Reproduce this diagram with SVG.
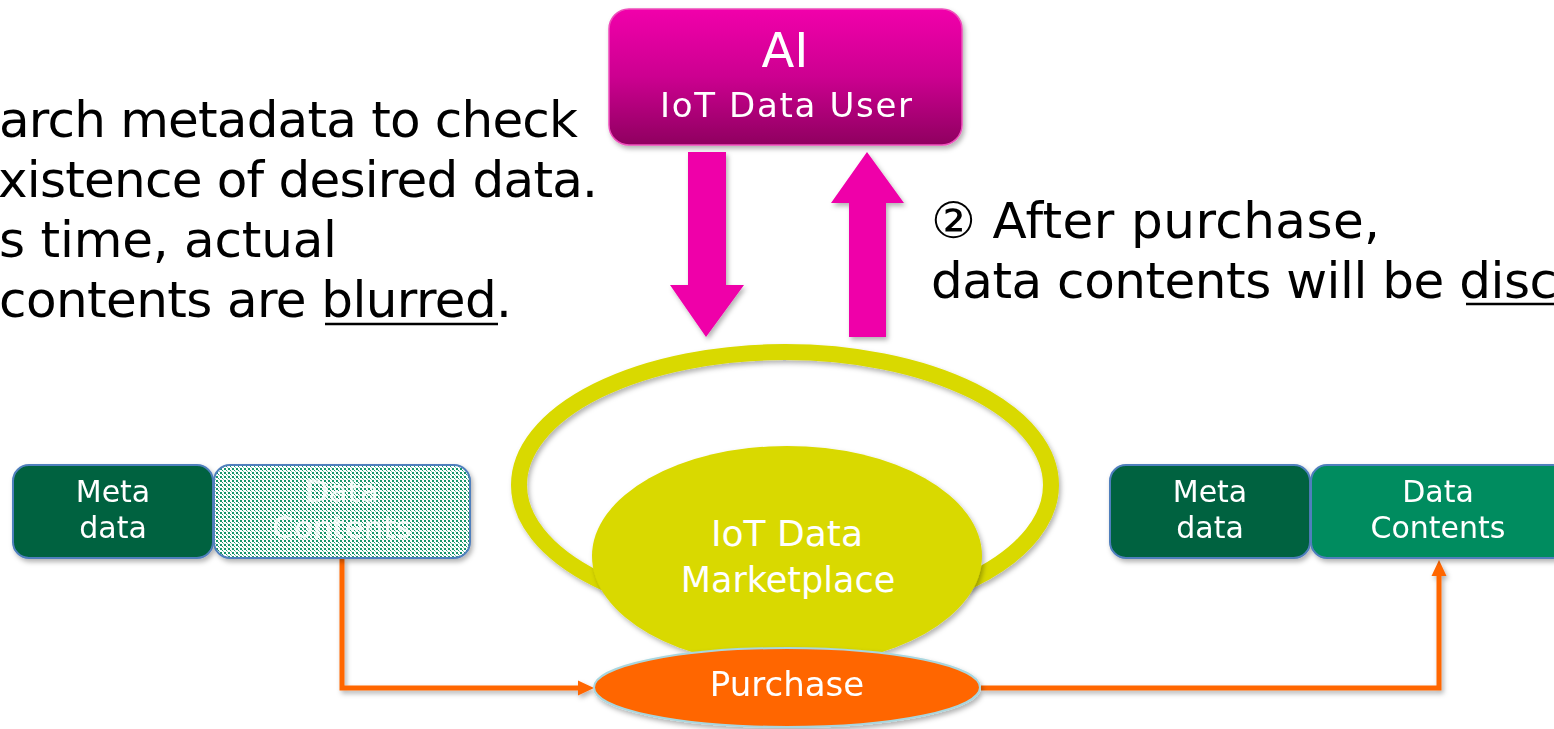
<svg xmlns="http://www.w3.org/2000/svg" width="1554" height="729" viewBox="0 0 1554 729">
  <defs>
    <style>
      .note { font-family: "DejaVu Sans", "Noto Sans CJK JP", sans-serif; font-size: 50px; fill: #000; }
      .lbl { font-family: "DejaVu Sans", "Noto Sans", sans-serif; fill: #fff; text-anchor: middle; }
      .box { stroke: #4f7fbd; stroke-width: 2; }
      .conn { fill: none; stroke: #ff6600; stroke-width: 5; }
      .head { fill: #ff6600; }
      .block { fill: #ef00a9; }
      .uline { stroke: #000; stroke-width: 2.5; }
    </style>
    <filter id="shadow" x="-10%" y="-10%" width="125%" height="130%">
      <feDropShadow dx="2" dy="3" stdDeviation="2.5" flood-color="#000" flood-opacity="0.3"/>
    </filter>
    <linearGradient id="aiFill" x1="0" y1="0" x2="0" y2="1">
      <stop offset="0" stop-color="#f100ab"/>
      <stop offset="0.5" stop-color="#cc0090"/>
      <stop offset="1" stop-color="#8f0060"/>
    </linearGradient>
    <pattern id="dither" width="4" height="4" patternUnits="userSpaceOnUse">
      <rect width="4" height="4" fill="#ffffff"/>
      <rect x="0" y="0" width="2" height="2" fill="#17966a"/>
      <rect x="2" y="2" width="1" height="1" fill="#17966a"/>
      <rect x="3" y="3" width="1" height="1" fill="#8ccab0"/>
    </pattern>
  </defs>

  <rect width="1554" height="729" fill="#ffffff"/>

  <!-- explanatory notes -->
  <g id="note-search">
    <text class="note" x="-1" y="136.7" textLength="579" lengthAdjust="spacing">arch metadata to check</text>
    <text class="note" x="-2" y="196.7" textLength="600" lengthAdjust="spacing">xistence of desired data.</text>
    <text class="note" x="-1" y="256.7" textLength="338" lengthAdjust="spacing">s time, actual</text>
    <text class="note" x="-1" y="316.7" textLength="513" lengthAdjust="spacing">contents are blurred.</text>
    <line class="uline" x1="325" y1="324" x2="498" y2="324"/>
  </g>
  <g id="note-purchase">
    <text class="note" x="931" y="238" textLength="449" lengthAdjust="spacing">② After purchase,</text>
    <text class="note" x="931" y="298" textLength="626" lengthAdjust="spacing">data contents will be disc</text>
    <line class="uline" x1="1466" y1="304" x2="1554" y2="304"/>
  </g>

  <!-- AI / IoT data user -->
  <g id="node-ai" filter="url(#shadow)">
    <rect x="609" y="9" width="353" height="136" rx="20" fill="url(#aiFill)" stroke="#ee4fbb" stroke-width="1.5"/>
    <text class="lbl" x="785" y="67" font-size="48">AI</text>
    <text class="lbl" x="786" y="117" font-size="34" textLength="252" lengthAdjust="spacing">IoT Data User</text>
  </g>

  <!-- marketplace ring and body -->
  <g id="node-marketplace">
    <ellipse cx="785" cy="485" rx="266" ry="133" fill="none" stroke="#d9d900" stroke-width="16" filter="url(#shadow)"/>
    <ellipse cx="787" cy="556" rx="195" ry="110" fill="#d9d900" filter="url(#shadow)"/>
    <text class="lbl" x="787" y="546" font-size="36">IoT Data</text>
    <text class="lbl" x="788" y="592" font-size="35">Marketplace</text>
  </g>

  <!-- connectors -->
  <g id="connectors" filter="url(#shadow)">
    <polygon class="block" points="688,152 726,152 726,285 744,285 706,337 670,285 688,285"/>
    <polygon class="block" points="867,152 904,203 886,203 886,337 849,337 849,203 831,203"/>
    <path class="conn" d="M342,558 V688 H582"/>
    <polygon class="head" points="578,680.5 594,688 578,695.5"/>
    <path class="conn" d="M981,688 H1439 V572"/>
    <polygon class="head" points="1431.5,576 1439,560 1446.5,576"/>
  </g>

  <!-- purchase step -->
  <g id="node-purchase" filter="url(#shadow)">
    <ellipse cx="787" cy="687.5" rx="193" ry="39.5" fill="#ff6600" stroke="#a9d6de" stroke-width="2"/>
    <text class="lbl" x="787" y="696" font-size="34">Purchase</text>
  </g>

  <!-- data before purchase -->
  <g id="node-meta-before" filter="url(#shadow)">
    <rect class="box" x="13" y="465" width="200" height="93" rx="16" fill="#006241"/>
    <text class="lbl" x="113" y="502" font-size="30">Meta</text>
    <text class="lbl" x="113" y="538" font-size="30">data</text>
  </g>
  <g id="node-contents-blurred" filter="url(#shadow)">
    <rect class="box" x="214" y="465" width="256" height="93" rx="16" fill="url(#dither)"/>
    <text class="lbl" x="342" y="502" font-size="31" opacity="0.85">Data</text>
    <text class="lbl" x="342" y="538" font-size="31" opacity="0.85">Contents</text>
  </g>

  <!-- data after purchase -->
  <g id="node-meta-after" filter="url(#shadow)">
    <rect class="box" x="1110" y="465" width="200" height="93" rx="16" fill="#006241"/>
    <text class="lbl" x="1210" y="502" font-size="30">Meta</text>
    <text class="lbl" x="1210" y="538" font-size="30">data</text>
  </g>
  <g id="node-contents-open" filter="url(#shadow)">
    <rect class="box" x="1311" y="465" width="258" height="93" rx="16" fill="#008c5f"/>
    <text class="lbl" x="1438" y="502" font-size="30">Data</text>
    <text class="lbl" x="1438" y="538" font-size="30">Contents</text>
  </g>
</svg>
